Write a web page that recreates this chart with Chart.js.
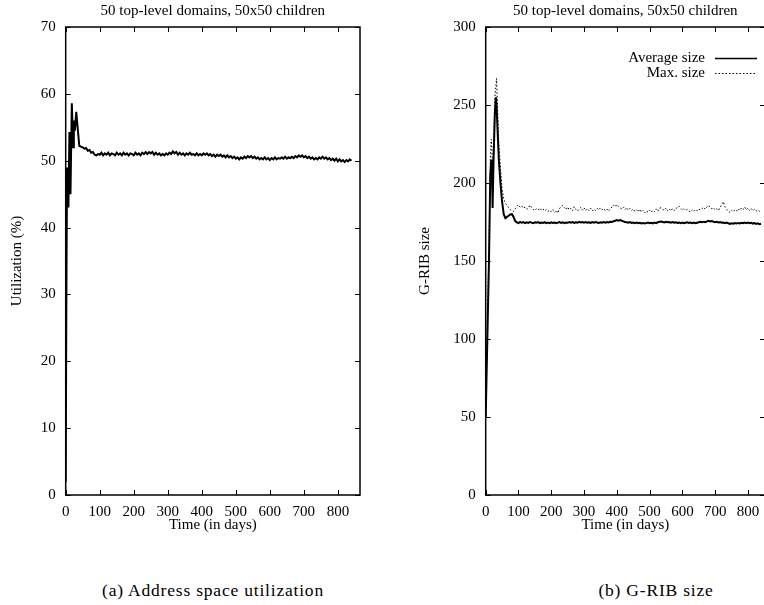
<!DOCTYPE html>
<html>
<head>
<meta charset="utf-8">
<script src="https://cdn.jsdelivr.net/npm/chart.js@4.4.1/dist/chart.umd.min.js"></script>
<style>
  html, body { margin: 0; padding: 0; background: #fff; overflow: hidden; }
  body { width: 764px; height: 605px; position: relative; }
  .box { position: absolute; top: 0; height: 545px; }
  .caption { position: absolute; top: 578px; font-family: "Liberation Serif", serif; font-size: 17.5px; letter-spacing: 0.8px; color: #000; text-align: center; line-height: 24px; white-space: nowrap; }
</style>
</head>
<body>
<div class="box" style="left:0; width:380px;"><canvas id="utilChart" width="380" height="545"></canvas></div>
<div class="box" style="left:380px; width:400px;"><canvas id="ribChart" width="400" height="545"></canvas></div>
<div class="caption" style="left:63px; width:300px;">(a) Address space utilization</div>
<div class="caption" style="left:556px; width:200px;">(b) G-RIB size</div>

<script>
// ---- data ----
const chartTitle = '50 top-level domains, 50x50 children';
const xTitle = 'Time (in days)';

// start-up transient, irregular days
const utilEarlyDays = [0, 2, 4, 6, 8, 11, 14, 18, 22, 24, 27, 31, 35, 40, 45];
const utilEarly = [2, 30, 49, 46, 43, 54.3, 45, 58.6, 52, 56, 54.5, 57.3, 55, 52.2, 52.1];
// then sampled every 5 days from day 50 to 840
const utilLate = [
  52.0, 51.8, 51.9, 51.5, 51.6, 51.2, 51.3, 50.9, 50.8, 51.0, 50.9,
  51.2, 50.8, 51.1, 50.9, 51.2, 50.8, 51.1, 51.0, 50.8, 51.2,
  50.9, 51.1, 50.8, 51.2, 50.9, 51.1, 50.8, 51.1, 51.0, 50.8,
  51.2, 50.9, 51.1, 50.8, 51.2, 51.0, 51.3, 51.0, 51.3, 51.1,
  51.3, 50.9, 51.2, 50.9, 51.1, 50.8, 51.0, 50.8, 51.1, 50.9,
  51.2, 51.0, 51.4, 51.1, 51.3, 50.9, 51.2, 50.9, 51.1, 50.8,
  51.1, 50.9, 51.2, 50.9, 51.0, 50.8, 51.1, 50.8, 51.0, 50.8,
  51.1, 50.9, 51.1, 50.8, 51.0, 50.7, 50.9, 50.6, 50.9, 50.7,
  50.9, 50.6, 50.8, 50.5, 50.8, 50.5, 50.7, 50.4, 50.6, 50.3,
  50.5, 50.2, 50.5, 50.3, 50.6, 50.4, 50.7, 50.5, 50.7, 50.4,
  50.6, 50.3, 50.5, 50.2, 50.4, 50.2, 50.5, 50.2, 50.4, 50.1,
  50.4, 50.2, 50.5, 50.2, 50.4, 50.3, 50.5, 50.3, 50.6, 50.3,
  50.5, 50.4, 50.6, 50.4, 50.7, 50.5, 50.8, 50.6, 50.8, 50.5,
  50.7, 50.4, 50.6, 50.3, 50.5, 50.2, 50.4, 50.2, 50.5, 50.3,
  50.6, 50.3, 50.5, 50.2, 50.4, 50.1, 50.3, 50.0, 50.3, 49.9,
  50.2, 49.9, 50.1, 49.8, 50.1, 49.9, 50.2, 50.0
];
const utilLateStart = 50;

const ribEarlyDays = [0, 5, 10, 14, 17, 19, 21, 24, 28, 31, 33, 36, 40, 45, 50, 55];
const avgEarly = [50, 100, 150, 205, 215, 210, 184, 215, 245, 255, 250, 235, 215, 200, 188, 180];
const maxEarly = [55, 110, 160, 215, 228, 222, 205, 225, 255, 262, 267, 250, 225, 210, 196, 190];
// every 5 days from day 60 to 840
const avgLate = [
  177.5, 178.3, 179.0, 179.8, 180.0, 178.2, 175.6, 174.8, 174.3, 175.0,
  174.5, 174.9, 174.3, 174.8, 174.4, 175.0, 174.6, 174.2, 174.8, 174.5,
  174.9, 174.3, 174.7, 174.4, 174.9, 174.2, 174.6, 174.3, 174.8, 174.4,
  174.7, 174.2, 174.6, 174.9, 174.4, 174.8, 174.3, 174.7, 174.5, 175.0,
  174.6, 174.9, 174.4, 174.8, 174.5, 175.1, 174.7, 175.0, 174.6, 174.9,
  174.5, 174.8, 174.4, 174.9, 174.6, 175.0, 174.7, 174.4, 174.8, 174.5,
  174.9, 174.6, 175.0, 174.7, 175.2, 175.0, 175.5, 175.8, 176.2, 175.9,
  176.3, 175.8, 175.4, 175.0, 174.8, 174.5, 174.9, 174.4, 174.7, 174.3,
  174.6, 174.2, 174.5, 174.1, 174.4, 174.0, 174.3, 174.6, 174.2, 174.5,
  174.1, 174.6, 174.3, 174.8, 175.1, 175.3, 175.0, 174.7, 175.1, 174.8,
  175.0, 174.6, 174.9, 174.5, 174.8, 174.4, 174.7, 174.3, 174.6, 174.2,
  174.5, 174.8, 174.4, 174.7, 174.3, 174.6, 174.2, 174.5, 174.8, 175.1,
  174.8, 175.2, 174.9, 175.4, 175.7, 175.3, 175.6, 175.2, 174.9, 175.1,
  174.7, 174.9, 174.5, 174.7, 174.3, 174.6, 174.2, 173.8, 174.2, 173.9,
  174.3, 174.0, 174.4, 174.1, 174.5, 174.2, 174.6, 174.3, 174.7, 174.2,
  174.5, 174.0, 174.3, 173.8, 174.1, 173.6, 173.9
];
const maxLate = [
  187.0, 185.5, 184.2, 183.0, 182.3, 181.8, 183.5, 185.0, 186.0, 184.5,
  185.2, 183.8, 184.6, 183.2, 184.0, 185.8, 184.2, 183.0, 182.4, 183.6,
  182.8, 183.9, 182.5, 183.3, 182.1, 183.0, 181.8, 182.6, 181.5, 182.9,
  181.2, 182.4, 180.7, 183.5, 185.0, 185.6, 184.2, 183.0, 184.6, 182.8,
  183.8, 182.2, 184.8, 183.1, 182.0, 183.4, 184.3, 182.6, 184.0, 182.3,
  183.5, 182.4, 183.9, 182.1, 183.2, 182.5, 183.8, 182.7, 184.1, 182.9,
  183.6, 182.3, 183.3, 182.0, 183.4, 184.6, 185.9, 184.8, 186.2, 185.0,
  184.1, 183.5, 184.7, 183.0, 184.2, 182.6, 183.7, 182.4, 183.3, 181.9,
  182.8, 181.5, 183.2, 181.3, 182.4, 180.8, 182.0, 181.4, 182.6, 181.2,
  182.5, 181.6, 183.4, 182.0, 183.8, 184.2, 183.1, 182.5, 183.9, 182.3,
  183.4, 182.1, 183.6, 182.4, 183.2, 184.6, 185.1, 183.9, 182.7, 183.5,
  182.4, 183.1, 182.0, 181.6, 182.8, 181.7, 182.9, 182.1, 183.3, 182.6,
  183.7, 184.4, 183.2, 184.8, 185.6, 184.2, 183.4, 184.0, 182.8, 183.6,
  182.4, 184.2, 186.3, 188.0, 184.6, 183.0, 182.2, 181.2, 182.6, 181.6,
  182.8, 182.0, 183.5, 182.4, 184.0, 183.0, 184.6, 182.8, 183.9, 182.5,
  183.6, 182.3, 183.2, 182.0, 182.8, 181.9, 182.5
];
const ribLateStart = 60;
const sampleStep = 5;

const utilTicks = [0, 10, 20, 30, 40, 50, 60, 70];
const ribTicks = [0, 50, 100, 150, 200, 250, 300];
const dayTicks = [0, 100, 200, 300, 400, 500, 600, 700, 800];
const legendLabels = ['Average size', 'Max. size'];

// ---- helpers ----
function toPoints(earlyDays, early, lateStart, late) {
  const pts = earlyDays.map((d, i) => ({x: d, y: early[i]}));
  late.forEach((v, i) => pts.push({x: lateStart + i * sampleStep, y: v}));
  return pts;
}

const FONT = {family: '"Liberation Serif", "Times New Roman", serif', size: 15, weight: 'normal'};

// gnuplot-like frame: full box with ticks pointing inward on all four sides
const framePlugin = {
  id: 'frame',
  afterDatasetsDraw(chart) {
    const {ctx, chartArea: a, scales} = chart;
    const len = 5;
    ctx.save();
    ctx.strokeStyle = '#000';
    ctx.lineWidth = 1;
    ctx.beginPath();
    scales.x.ticks.forEach(t => {
      const px = Math.round(scales.x.getPixelForValue(t.value)) + 0.5;
      ctx.moveTo(px, a.bottom); ctx.lineTo(px, a.bottom - len);
      ctx.moveTo(px, a.top); ctx.lineTo(px, a.top + len);
    });
    scales.y.ticks.forEach(t => {
      const py = Math.round(scales.y.getPixelForValue(t.value)) + 0.5;
      ctx.moveTo(a.left, py); ctx.lineTo(a.left + len, py);
      ctx.moveTo(a.right, py); ctx.lineTo(a.right - len, py);
    });
    ctx.stroke();
    ctx.lineWidth = 1.5;
    ctx.strokeRect(a.left, a.top, a.right - a.left, a.bottom - a.top);
    ctx.restore();
  }
};

// legend in gnuplot style: text on the left, line sample on the right
const sampleLegend = {
  id: 'sampleLegend',
  afterDraw(chart) {
    const {ctx} = chart;
    ctx.save();
    ctx.font = FONT.size + 'px ' + FONT.family;
    ctx.fillStyle = '#000';
    ctx.textAlign = 'right';
    ctx.textBaseline = 'middle';
    chart.data.datasets.forEach((ds, i) => {
      const y = 58 + i * 15;
      ctx.fillText(ds.label, 325, y);
      ctx.beginPath();
      ctx.strokeStyle = '#000';
      ctx.lineWidth = ds.legendWidth;
      ctx.setLineDash(ds.borderDash || []);
      ctx.moveTo(335, y + 0.5);
      ctx.lineTo(377, y + 0.5);
      ctx.stroke();
    });
    ctx.restore();
  }
};

function makeOptions(yTitle, yMax, yStep, xMax, yWidth, yTitlePad, padRight) {
  return {
    responsive: false,
    animation: false,
    layout: {padding: {left: 0, right: padRight, top: 0, bottom: 0}},
    plugins: {
      legend: {display: false},
      tooltip: {enabled: false},
      title: {
        display: true, text: chartTitle, color: '#000', fullSize: false,
        font: FONT, padding: {top: 2, bottom: 7}
      }
    },
    scales: {
      x: {
        type: 'linear', min: 0, max: xMax,
        grid: {display: false, drawTicks: false},
        border: {display: false},
        ticks: {
          stepSize: 100, includeBounds: false, color: '#000', font: FONT, padding: 8,
          callback: v => dayTicks.includes(v) ? String(v) : ''
        },
        title: {display: true, text: xTitle, color: '#000', font: FONT, padding: {top: 0, bottom: 11}},
        afterFit(s) { s.height = 50; }
      },
      y: {
        type: 'linear', min: 0, max: yMax,
        grid: {display: false, drawTicks: false},
        border: {display: false},
        ticks: {stepSize: yStep, color: '#000', font: FONT, padding: 10},
        title: {display: true, text: yTitle, color: '#000', font: FONT, padding: {top: yTitlePad, bottom: 0}},
        afterFit(s) { s.width = yWidth; }
      }
    }
  };
}

document.addEventListener('DOMContentLoaded', function () {
  try {
    new Chart(document.getElementById('utilChart').getContext('2d'), {
      type: 'line',
      data: {
        datasets: [{
          label: 'Utilization',
          data: toPoints(utilEarlyDays, utilEarly, utilLateStart, utilLate),
          borderColor: '#000', borderWidth: 2, pointRadius: 0, tension: 0, fill: false
        }]
      },
      options: makeOptions('Utilization (%)', utilTicks[utilTicks.length - 1], 10, 865, 65.7, 8, 20),
      plugins: [framePlugin]
    });

    new Chart(document.getElementById('ribChart').getContext('2d'), {
      type: 'line',
      data: {
        datasets: [{
          label: legendLabels[0],
          data: toPoints(ribEarlyDays, avgEarly, ribLateStart, avgLate),
          borderColor: '#000', borderWidth: 2, legendWidth: 1.3, pointRadius: 0, tension: 0, fill: false
        }, {
          label: legendLabels[1],
          data: toPoints(ribEarlyDays, maxEarly, ribLateStart, maxLate),
          borderColor: '#000', borderWidth: 1, legendWidth: 1, borderDash: [1.5, 2], pointRadius: 0, tension: 0, fill: false
        }]
      },
      options: makeOptions('G-RIB size', ribTicks[ribTicks.length - 1], 50, 852, 105.7, 36, 15),
      plugins: [framePlugin, sampleLegend]
    });
  } catch (error) {
    console.error('Error creating charts:', error);
  }
});
</script>
</body>
</html>
